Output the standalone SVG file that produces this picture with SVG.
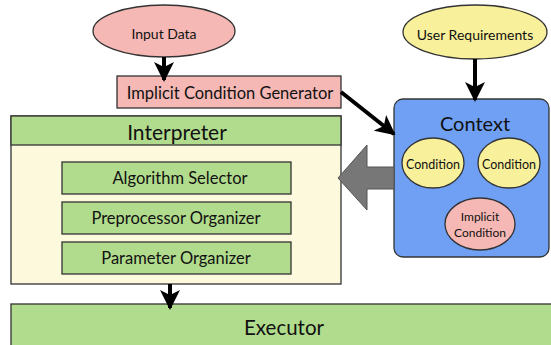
<svg xmlns="http://www.w3.org/2000/svg" width="551" height="345" viewBox="0 0 551 345">
<defs>
<style>
.t{font-family:Lato,"Liberation Sans",sans-serif;fill:#111;text-anchor:middle;dominant-baseline:central}
.pink{fill:#f5b8b4;stroke:#333;stroke-width:1.3}
.yel{fill:#f8f09a;stroke:#333;stroke-width:1.3}
.grn{fill:#b1dc8d;stroke:#333;stroke-width:1.3}
.cream{fill:#fdf9dd;stroke:#333;stroke-width:1.3}
.blue{fill:#6fa0f4;stroke:#333;stroke-width:1.3}
.ar{stroke:#000;stroke-width:4;fill:none}
</style>
<marker id="ah" viewBox="0 0 10 10" refX="9" refY="5" markerWidth="5" markerHeight="5" orient="auto" markerUnits="strokeWidth">
<path d="M0,0 L10,5 L0,10 L2.5,5 Z" fill="#000"/>
</marker>
</defs>
<rect width="551" height="345" fill="#fff"/>
<g id="executor">
<rect class="grn" x="11" y="304" width="560" height="60"/>
<text class="t" x="284" y="327" font-size="20.5">Executor</text>
</g>
<g id="interpreter">
<rect class="cream" x="11" y="116" width="330" height="168"/>
<rect class="grn" x="11" y="116" width="330" height="29"/>
<text class="t" x="177" y="131" font-size="21">Interpreter</text>
</g>
<g id="algorithm-selector">
<rect class="grn" x="62" y="162" width="229" height="32"/>
<text class="t" x="180" y="178" font-size="16.5">Algorithm Selector</text>
</g>
<g id="preprocessor-organizer">
<rect class="grn" x="62" y="202" width="229" height="32"/>
<text class="t" x="176" y="218" font-size="16.5">Preprocessor Organizer</text>
</g>
<g id="parameter-organizer">
<rect class="grn" x="62" y="242" width="229" height="32"/>
<text class="t" x="176" y="258" font-size="16.5">Parameter Organizer</text>
</g>
<g id="input-data">
<ellipse class="pink" cx="164" cy="31" rx="71" ry="26"/>
<text class="t" x="164" y="33" font-size="14">Input Data</text>
</g>
<g id="user-requirements">
<ellipse class="yel" cx="475" cy="32" rx="72" ry="27"/>
<text class="t" x="475" y="34" font-size="14">User Requirements</text>
</g>
<g id="implicit-condition-generator">
<rect class="pink" x="117" y="76" width="224" height="32"/>
<text class="t" x="230" y="93" font-size="16.5">Implicit Condition Generator</text>
</g>
<g id="context">
<rect class="blue" x="394" y="99" width="155" height="158" rx="9"/>
<text class="t" x="475" y="123" font-size="20">Context</text>
<g id="condition-1">
<ellipse class="yel" cx="433" cy="163" rx="31" ry="25"/>
<text class="t" x="433" y="164" font-size="12.5">Condition</text>
</g>
<g id="condition-2">
<ellipse class="yel" cx="509" cy="163" rx="31" ry="25"/>
<text class="t" x="509" y="164" font-size="12.5">Condition</text>
</g>
<g id="implicit-condition">
<ellipse class="pink" cx="480" cy="224" rx="35" ry="26"/>
<text class="t" x="480" y="216" font-size="12">Implicit</text>
<text class="t" x="480" y="232" font-size="12">Condition</text>
</g>
</g>
<g id="connectors">
<line class="ar" x1="164" y1="57" x2="164" y2="80" marker-end="url(#ah)"/>
<line class="ar" x1="475" y1="59" x2="475" y2="100" marker-end="url(#ah)"/>
<line class="ar" x1="341" y1="92" x2="394" y2="134" marker-end="url(#ah)"/>
<line class="ar" x1="170" y1="284" x2="170" y2="308" marker-end="url(#ah)"/>
<path d="M394,167 L367,167 L367,145 L338,178 L367,210 L367,189 L394,189 Z" fill="#777" stroke="#555" stroke-width="1"/>
</g>
</svg>
